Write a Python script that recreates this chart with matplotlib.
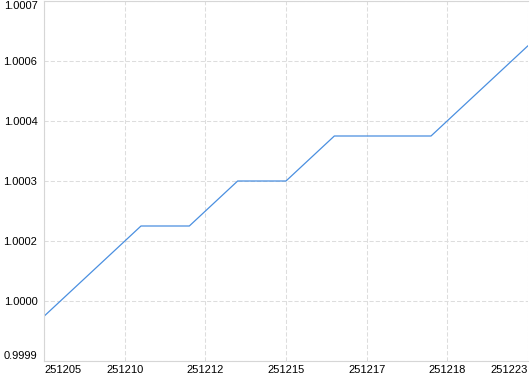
import numpy as np
import matplotlib
matplotlib.use("Agg")
import matplotlib.pyplot as plt

# Data: 11 points, ratio value per step
values = [1.0000, 1.0001, 1.0002, 1.0002, 1.0003, 1.0003,
          1.0004, 1.0004, 1.0004, 1.0005, 1.0006]
x_labels = ["251205", "251210", "251212", "251215", "251217", "251218", "251223"]
y_min, y_max = 0.9999, 1.0007

plt.rcParams["font.family"] = ["Liberation Sans", "DejaVu Sans"]

fig = plt.figure(figsize=(5.3, 3.74), dpi=100)
ax = fig.add_axes([44.3 / 530, 13 / 374, (527.7 - 44.3) / 530, 360 / 374])

x = np.arange(len(values))
ax.plot(x, values, color="#4a8fe0", linewidth=0.9)

ax.set_xlim(0, len(values) - 1)
ax.set_ylim(y_min, y_max)

ax.set_xticks(np.linspace(0, len(values) - 1, len(x_labels)))
ax.set_xticklabels(x_labels)
yt = np.linspace(y_min, y_max, 7)
ax.set_yticks(yt)
ax.set_yticklabels(["%.4f" % v for v in yt])

ax.tick_params(length=0, labelsize=8, colors="black")
ax.tick_params(axis="y", pad=5)
ax.tick_params(axis="x", pad=3)

xl = ax.get_xticklabels()
xl[0].set_ha("left")
xl[-1].set_ha("right")
yl = ax.get_yticklabels()
yl[0].set_va("bottom")
yl[-1].set_va("top")

ax.grid(True, color="#dddddd", linestyle=(0, (4, 2)), linewidth=0.75)
ax.set_axisbelow(True)
for side in ["left", "bottom", "top"]:
    ax.spines[side].set_color("#d6d6d6")
    ax.spines[side].set_linewidth(0.8)
ax.spines["right"].set_visible(False)

fig.savefig("out.png", dpi=100)
